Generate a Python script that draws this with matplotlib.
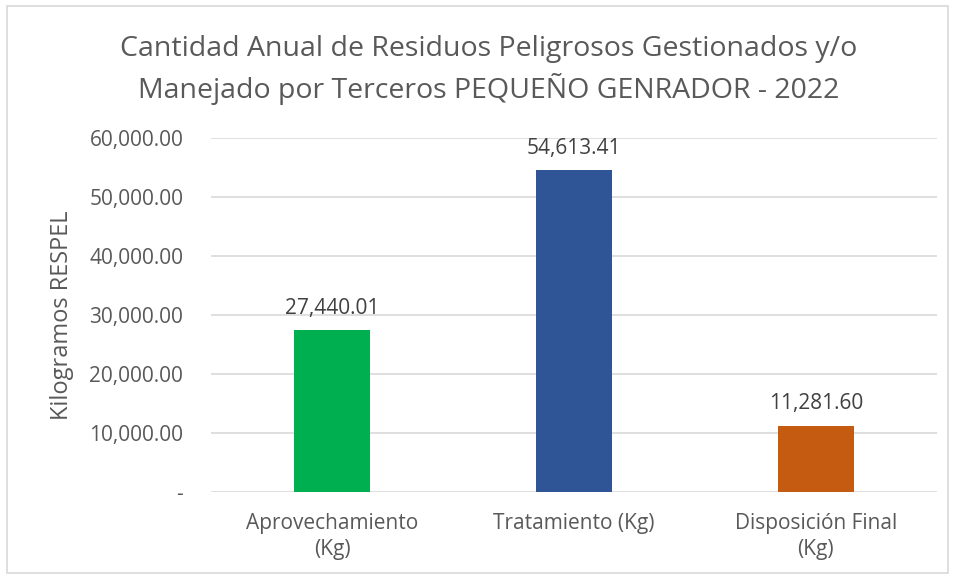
import matplotlib
matplotlib.use("Agg")
import matplotlib.pyplot as plt
from matplotlib.patches import Rectangle
from matplotlib.ticker import FuncFormatter

categories = ["Aprovechamiento\n(Kg)", "Tratamiento (Kg)", "Disposición Final\n(Kg)"]
values = [27440.01, 54613.41, 11281.60]
colors = ["#00B050", "#2F5597", "#C55A11"]
yticks = [0, 10000, 20000, 30000, 40000, 50000, 60000]

plt.rcParams['font.family'] = ['Open Sans', 'DejaVu Sans']
txt = "#595959"

fig = plt.figure(figsize=(9.55, 5.79), dpi=100)
ax = fig.add_axes([0.221, 0.150, 0.760, 0.612])

x = list(range(len(categories)))
bars = ax.bar(x, values, width=0.314, color=colors, zorder=3)
for xi, v in zip(x, values):
    ax.annotate(f"{v:,.2f}", (xi, v), xytext=(0, 8), textcoords="offset points",
                ha="center", va="bottom", fontsize=15, color="#404040")

ax.set_xlim(-0.5, 2.5)
ax.set_ylim(0, 60000)
ax.set_yticks(yticks)
ax.yaxis.set_major_formatter(FuncFormatter(lambda v, p: "-" if v == 0 else f"{v:,.2f}"))
ax.set_xticks(x)
ax.set_xticklabels(categories, fontsize=15, color=txt, linespacing=1.3)
ax.tick_params(axis='y', labelsize=15, labelcolor=txt, length=0, pad=20)
ax.tick_params(axis='x', length=0, pad=15)
ax.grid(axis='y', color="#D9D9D9", linewidth=1.2, zorder=0)
for s in ax.spines.values():
    s.set_visible(False)
ax.set_ylabel("Kilogramos RESPEL", fontsize=17, color=txt, labelpad=11)

fig.text(0.512, 0.879, "Cantidad Anual de Residuos Peligrosos Gestionados y/o\nManejado por Terceros PEQUEÑO GENRADOR - 2022",
         ha="center", va="center", fontsize=20.5, color=txt, linespacing=1.42)

fig.patches.append(Rectangle((0.007, 0.01), 0.986, 0.98, transform=fig.transFigure,
                             fill=False, edgecolor="#D9D9D9", linewidth=1.2))

fig.savefig("out.png", dpi=100, facecolor="white")
